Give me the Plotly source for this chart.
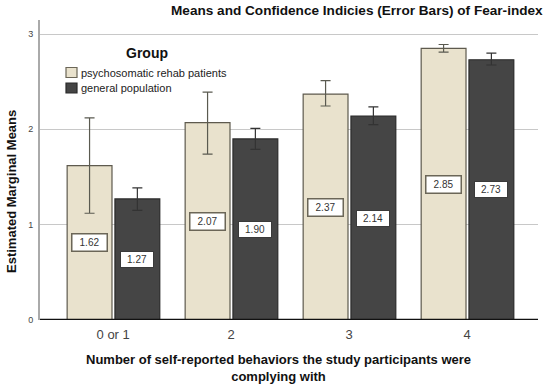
import plotly.graph_objects as go

categories = ["0 or 1", "2", "3", "4"]
rehab_mean = [1.62, 2.07, 2.37, 2.85]
rehab_upper = [2.12, 2.39, 2.51, 2.89]
rehab_lower = [1.12, 1.74, 2.245, 2.81]
general_mean = [1.27, 1.90, 2.14, 2.73]
general_upper = [1.385, 2.01, 2.235, 2.80]
general_lower = [1.15, 1.79, 2.05, 2.675]
y_ticks = [0, 1, 2, 3]
group_names = ["psychosomatic rehab patients", "general population"]

FONT = "Liberation Sans"
xs = list(range(len(categories)))
W = 0.38
OFF_L = -0.39
OFF_D = 0.015
LIGHT = "#E9E2CD"
DARK = "#454545"

# plot area in pixels
L, R, T, B = 40, 12, 20, 68
PW, PH = 550 - L - R, 388 - T - B
def px(x):
    return (x - L) / PW
def py(y):
    return (388 - B - y) / PH

fig = go.Figure()
fig.add_trace(go.Bar(
    x=xs, y=rehab_mean, name=group_names[0],
    width=W, offset=OFF_L,
    marker=dict(color=LIGHT, line=dict(color="#5e5a4e", width=1.2)),
    error_y=dict(type="data", symmetric=False,
                 array=[u - m for u, m in zip(rehab_upper, rehab_mean)],
                 arrayminus=[m - l for m, l in zip(rehab_mean, rehab_lower)],
                 color="#5a5a50", thickness=1.2, width=5),
))
fig.add_trace(go.Bar(
    x=xs, y=general_mean, name=group_names[1],
    width=W, offset=OFF_D,
    marker=dict(color=DARK, line=dict(color="#2a2a2a", width=1.2)),
    error_y=dict(type="data", symmetric=False,
                 array=[u - m for u, m in zip(general_upper, general_mean)],
                 arrayminus=[m - l for m, l in zip(general_mean, general_lower)],
                 color="#333333", thickness=1.2, width=5),
))

for i, v in enumerate(rehab_mean):
    fig.add_annotation(x=i + OFF_L + W / 2, y=v / 2, xref="x", yref="y",
                       text=f"{v:.2f}", showarrow=False,
                       font=dict(family=FONT, size=10, color="#333333"),
                       bgcolor="white", bordercolor="#6b6657", borderwidth=1.5,
                       width=32, height=14, borderpad=1)
for i, v in enumerate(general_mean):
    fig.add_annotation(x=i + OFF_D + W / 2, y=v / 2, xref="x", yref="y",
                       text=f"{v:.2f}", showarrow=False,
                       font=dict(family=FONT, size=10, color="#333333"),
                       bgcolor="white", bordercolor="#3a3a3a", borderwidth=1,
                       width=30, height=13, borderpad=1)

# title
fig.add_annotation(xref="paper", yref="paper", x=px(545), y=py(11),
                   xanchor="right", yanchor="middle", showarrow=False,
                   text="<b>Means and Confidence Indicies (Error Bars) of Fear-index</b>",
                   font=dict(family=FONT, size=13.6, color="#111111"))
# y title
fig.add_annotation(xref="paper", yref="paper", x=px(12), y=py(192),
                   xanchor="center", yanchor="middle", showarrow=False, textangle=-90,
                   text="<b>Estimated Marginal Means</b>",
                   font=dict(family=FONT, size=13, color="#111111"))
# x title
fig.add_annotation(xref="paper", yref="paper", x=px(278), y=py(368),
                   xanchor="center", yanchor="middle", showarrow=False,
                   text="<b>Number of self-reported behaviors the study participants were<br>complying with</b>",
                   font=dict(family=FONT, size=13, color="#111111"))

# legend (manual)
fig.add_annotation(xref="paper", yref="paper", x=px(147), y=py(53),
                   xanchor="center", yanchor="middle", showarrow=False,
                   text="<b>Group</b>",
                   font=dict(family=FONT, size=14, color="#111111"))
legend_fill = [LIGHT, DARK]
legend_line = ["#6b6657", "#2a2a2a"]
for k, name in enumerate(group_names):
    yc = 72.5 + 15.5 * k
    fig.add_shape(type="rect", xref="paper", yref="paper",
                  x0=px(66), x1=px(77), y0=py(yc + 5), y1=py(yc - 5),
                  fillcolor=legend_fill[k], line=dict(color=legend_line[k], width=1.2))
    fig.add_annotation(xref="paper", yref="paper", x=px(79), y=py(yc),
                       xanchor="left", yanchor="middle", showarrow=False,
                       text=name, font=dict(family=FONT, size=11, color="#222222"))

fig.update_layout(
    width=550, height=388,
    margin=dict(l=L, r=R, t=T, b=B),
    paper_bgcolor="white", plot_bgcolor="white",
    font=dict(family=FONT, color="#333333"),
    showlegend=False,
    xaxis=dict(range=[-0.62, 3.60], tickvals=xs, ticktext=categories,
               showgrid=False, zeroline=False, showline=False, automargin=False,
               ticks="", ticklabelstandoff=5,
               tickfont=dict(family=FONT, size=13, color="#444444")),
    yaxis=dict(range=[0, 3.147], tickvals=y_ticks, ticktext=[str(t) for t in y_ticks],
               showgrid=True, gridcolor="#c8c8c8", gridwidth=1, automargin=False,
               zeroline=False, showline=True, linecolor="#aaaaaa", linewidth=2,
               ticks="", ticklabelstandoff=3,
               tickfont=dict(family=FONT, size=9, color="#444444")),
)
fig.add_hline(y=0, line=dict(color="#111111", width=2.5))

fig.write_html("out.html", config={"displayModeBar": False},
               post_script="document.body.style.margin='0';document.body.style.overflow='hidden';")
